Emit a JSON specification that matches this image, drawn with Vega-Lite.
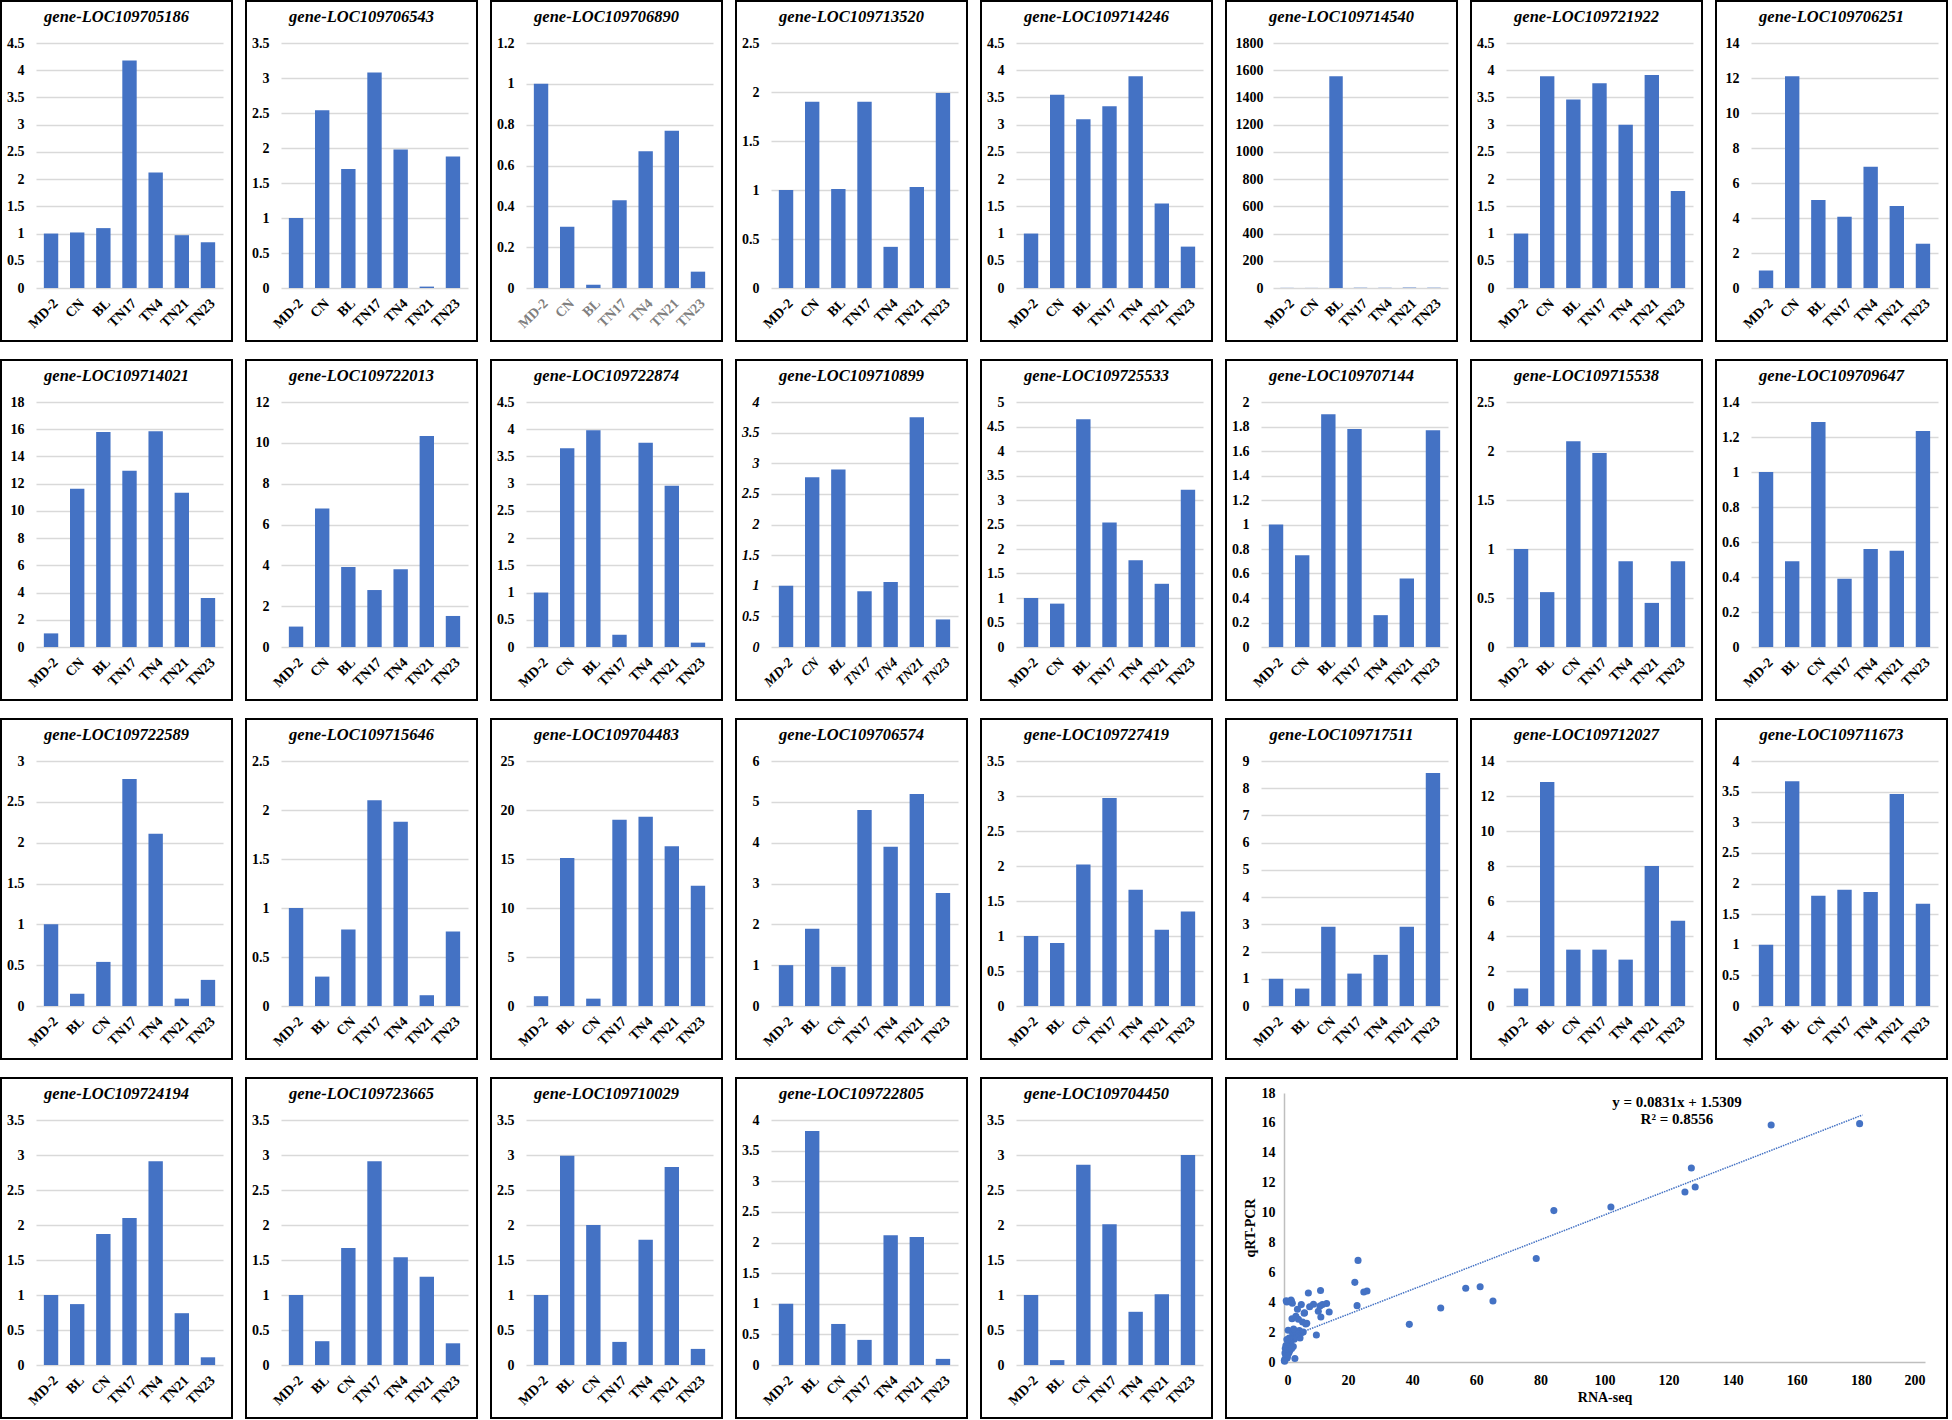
{
"$schema": "https://vega.github.io/schema/vega-lite/v6.json",
"padding": 0,
"background": "white",
"datasets": {
"bars": [
{"gene":"gene-LOC109705186","sample":"MD-2","value":1.0},{"gene":"gene-LOC109705186","sample":"CN","value":1.02},{"gene":"gene-LOC109705186","sample":"BL","value":1.1},{"gene":"gene-LOC109705186","sample":"TN17","value":4.18},{"gene":"gene-LOC109705186","sample":"TN4","value":2.12},{"gene":"gene-LOC109705186","sample":"TN21","value":0.97},{"gene":"gene-LOC109705186","sample":"TN23","value":0.84},
{"gene":"gene-LOC109706543","sample":"MD-2","value":1.0},{"gene":"gene-LOC109706543","sample":"CN","value":2.54},{"gene":"gene-LOC109706543","sample":"BL","value":1.7},{"gene":"gene-LOC109706543","sample":"TN17","value":3.08},{"gene":"gene-LOC109706543","sample":"TN4","value":1.98},{"gene":"gene-LOC109706543","sample":"TN21","value":0.02},{"gene":"gene-LOC109706543","sample":"TN23","value":1.88},
{"gene":"gene-LOC109706890","sample":"MD-2","value":1.0},{"gene":"gene-LOC109706890","sample":"CN","value":0.3},{"gene":"gene-LOC109706890","sample":"BL","value":0.016},{"gene":"gene-LOC109706890","sample":"TN17","value":0.43},{"gene":"gene-LOC109706890","sample":"TN4","value":0.67},{"gene":"gene-LOC109706890","sample":"TN21","value":0.77},{"gene":"gene-LOC109706890","sample":"TN23","value":0.08},
{"gene":"gene-LOC109713520","sample":"MD-2","value":1.0},{"gene":"gene-LOC109713520","sample":"CN","value":1.9},{"gene":"gene-LOC109713520","sample":"BL","value":1.01},{"gene":"gene-LOC109713520","sample":"TN17","value":1.9},{"gene":"gene-LOC109713520","sample":"TN4","value":0.42},{"gene":"gene-LOC109713520","sample":"TN21","value":1.03},{"gene":"gene-LOC109713520","sample":"TN23","value":1.99},
{"gene":"gene-LOC109714246","sample":"MD-2","value":1.0},{"gene":"gene-LOC109714246","sample":"CN","value":3.55},{"gene":"gene-LOC109714246","sample":"BL","value":3.1},{"gene":"gene-LOC109714246","sample":"TN17","value":3.34},{"gene":"gene-LOC109714246","sample":"TN4","value":3.89},{"gene":"gene-LOC109714246","sample":"TN21","value":1.55},{"gene":"gene-LOC109714246","sample":"TN23","value":0.76},
{"gene":"gene-LOC109714540","sample":"MD-2","value":1.0},{"gene":"gene-LOC109714540","sample":"CN","value":0.6},{"gene":"gene-LOC109714540","sample":"BL","value":1556},{"gene":"gene-LOC109714540","sample":"TN17","value":2},{"gene":"gene-LOC109714540","sample":"TN4","value":1.5},{"gene":"gene-LOC109714540","sample":"TN21","value":3},{"gene":"gene-LOC109714540","sample":"TN23","value":2},
{"gene":"gene-LOC109721922","sample":"MD-2","value":1.0},{"gene":"gene-LOC109721922","sample":"CN","value":3.89},{"gene":"gene-LOC109721922","sample":"BL","value":3.46},{"gene":"gene-LOC109721922","sample":"TN17","value":3.76},{"gene":"gene-LOC109721922","sample":"TN4","value":3.0},{"gene":"gene-LOC109721922","sample":"TN21","value":3.91},{"gene":"gene-LOC109721922","sample":"TN23","value":1.78},
{"gene":"gene-LOC109706251","sample":"MD-2","value":1.0},{"gene":"gene-LOC109706251","sample":"CN","value":12.1},{"gene":"gene-LOC109706251","sample":"BL","value":5.03},{"gene":"gene-LOC109706251","sample":"TN17","value":4.07},{"gene":"gene-LOC109706251","sample":"TN4","value":6.93},{"gene":"gene-LOC109706251","sample":"TN21","value":4.69},{"gene":"gene-LOC109706251","sample":"TN23","value":2.53},
{"gene":"gene-LOC109714021","sample":"MD-2","value":1.0},{"gene":"gene-LOC109714021","sample":"CN","value":11.63},{"gene":"gene-LOC109714021","sample":"BL","value":15.79},{"gene":"gene-LOC109714021","sample":"TN17","value":12.94},{"gene":"gene-LOC109714021","sample":"TN4","value":15.86},{"gene":"gene-LOC109714021","sample":"TN21","value":11.34},{"gene":"gene-LOC109714021","sample":"TN23","value":3.6},
{"gene":"gene-LOC109722013","sample":"MD-2","value":1.0},{"gene":"gene-LOC109722013","sample":"CN","value":6.78},{"gene":"gene-LOC109722013","sample":"BL","value":3.92},{"gene":"gene-LOC109722013","sample":"TN17","value":2.79},{"gene":"gene-LOC109722013","sample":"TN4","value":3.81},{"gene":"gene-LOC109722013","sample":"TN21","value":10.33},{"gene":"gene-LOC109722013","sample":"TN23","value":1.52},
{"gene":"gene-LOC109722874","sample":"MD-2","value":1.0},{"gene":"gene-LOC109722874","sample":"CN","value":3.65},{"gene":"gene-LOC109722874","sample":"BL","value":3.98},{"gene":"gene-LOC109722874","sample":"TN17","value":0.225},{"gene":"gene-LOC109722874","sample":"TN4","value":3.75},{"gene":"gene-LOC109722874","sample":"TN21","value":2.96},{"gene":"gene-LOC109722874","sample":"TN23","value":0.08},
{"gene":"gene-LOC109710899","sample":"MD-2","value":1.0},{"gene":"gene-LOC109710899","sample":"CN","value":2.77},{"gene":"gene-LOC109710899","sample":"BL","value":2.9},{"gene":"gene-LOC109710899","sample":"TN17","value":0.91},{"gene":"gene-LOC109710899","sample":"TN4","value":1.06},{"gene":"gene-LOC109710899","sample":"TN21","value":3.75},{"gene":"gene-LOC109710899","sample":"TN23","value":0.45},
{"gene":"gene-LOC109725533","sample":"MD-2","value":1.0},{"gene":"gene-LOC109725533","sample":"CN","value":0.885},{"gene":"gene-LOC109725533","sample":"BL","value":4.65},{"gene":"gene-LOC109725533","sample":"TN17","value":2.54},{"gene":"gene-LOC109725533","sample":"TN4","value":1.77},{"gene":"gene-LOC109725533","sample":"TN21","value":1.29},{"gene":"gene-LOC109725533","sample":"TN23","value":3.21},
{"gene":"gene-LOC109707144","sample":"MD-2","value":1.0},{"gene":"gene-LOC109707144","sample":"CN","value":0.75},{"gene":"gene-LOC109707144","sample":"BL","value":1.9},{"gene":"gene-LOC109707144","sample":"TN17","value":1.78},{"gene":"gene-LOC109707144","sample":"TN4","value":0.26},{"gene":"gene-LOC109707144","sample":"TN21","value":0.56},{"gene":"gene-LOC109707144","sample":"TN23","value":1.77},
{"gene":"gene-LOC109715538","sample":"MD-2","value":1.0},{"gene":"gene-LOC109715538","sample":"BL","value":0.56},{"gene":"gene-LOC109715538","sample":"CN","value":2.1},{"gene":"gene-LOC109715538","sample":"TN17","value":1.98},{"gene":"gene-LOC109715538","sample":"TN4","value":0.875},{"gene":"gene-LOC109715538","sample":"TN21","value":0.45},{"gene":"gene-LOC109715538","sample":"TN23","value":0.875},
{"gene":"gene-LOC109709647","sample":"MD-2","value":1.0},{"gene":"gene-LOC109709647","sample":"BL","value":0.49},{"gene":"gene-LOC109709647","sample":"CN","value":1.286},{"gene":"gene-LOC109709647","sample":"TN17","value":0.39},{"gene":"gene-LOC109709647","sample":"TN4","value":0.56},{"gene":"gene-LOC109709647","sample":"TN21","value":0.55},{"gene":"gene-LOC109709647","sample":"TN23","value":1.234},
{"gene":"gene-LOC109722589","sample":"MD-2","value":1.0},{"gene":"gene-LOC109722589","sample":"BL","value":0.15},{"gene":"gene-LOC109722589","sample":"CN","value":0.54},{"gene":"gene-LOC109722589","sample":"TN17","value":2.78},{"gene":"gene-LOC109722589","sample":"TN4","value":2.11},{"gene":"gene-LOC109722589","sample":"TN21","value":0.09},{"gene":"gene-LOC109722589","sample":"TN23","value":0.32},
{"gene":"gene-LOC109715646","sample":"MD-2","value":1.0},{"gene":"gene-LOC109715646","sample":"BL","value":0.3},{"gene":"gene-LOC109715646","sample":"CN","value":0.78},{"gene":"gene-LOC109715646","sample":"TN17","value":2.1},{"gene":"gene-LOC109715646","sample":"TN4","value":1.88},{"gene":"gene-LOC109715646","sample":"TN21","value":0.11},{"gene":"gene-LOC109715646","sample":"TN23","value":0.76},
{"gene":"gene-LOC109704483","sample":"MD-2","value":1.0},{"gene":"gene-LOC109704483","sample":"BL","value":15.1},{"gene":"gene-LOC109704483","sample":"CN","value":0.75},{"gene":"gene-LOC109704483","sample":"TN17","value":19.0},{"gene":"gene-LOC109704483","sample":"TN4","value":19.3},{"gene":"gene-LOC109704483","sample":"TN21","value":16.3},{"gene":"gene-LOC109704483","sample":"TN23","value":12.26},
{"gene":"gene-LOC109706574","sample":"MD-2","value":1.0},{"gene":"gene-LOC109706574","sample":"BL","value":1.89},{"gene":"gene-LOC109706574","sample":"CN","value":0.96},{"gene":"gene-LOC109706574","sample":"TN17","value":4.8},{"gene":"gene-LOC109706574","sample":"TN4","value":3.9},{"gene":"gene-LOC109706574","sample":"TN21","value":5.19},{"gene":"gene-LOC109706574","sample":"TN23","value":2.77},
{"gene":"gene-LOC109727419","sample":"MD-2","value":1.0},{"gene":"gene-LOC109727419","sample":"BL","value":0.9},{"gene":"gene-LOC109727419","sample":"CN","value":2.02},{"gene":"gene-LOC109727419","sample":"TN17","value":2.97},{"gene":"gene-LOC109727419","sample":"TN4","value":1.66},{"gene":"gene-LOC109727419","sample":"TN21","value":1.09},{"gene":"gene-LOC109727419","sample":"TN23","value":1.35},
{"gene":"gene-LOC109717511","sample":"MD-2","value":1.0},{"gene":"gene-LOC109717511","sample":"BL","value":0.64},{"gene":"gene-LOC109717511","sample":"CN","value":2.91},{"gene":"gene-LOC109717511","sample":"TN17","value":1.19},{"gene":"gene-LOC109717511","sample":"TN4","value":1.88},{"gene":"gene-LOC109717511","sample":"TN21","value":2.91},{"gene":"gene-LOC109717511","sample":"TN23","value":8.56},
{"gene":"gene-LOC109712027","sample":"MD-2","value":1.0},{"gene":"gene-LOC109712027","sample":"BL","value":12.8},{"gene":"gene-LOC109712027","sample":"CN","value":3.22},{"gene":"gene-LOC109712027","sample":"TN17","value":3.22},{"gene":"gene-LOC109712027","sample":"TN4","value":2.65},{"gene":"gene-LOC109712027","sample":"TN21","value":8.0},{"gene":"gene-LOC109712027","sample":"TN23","value":4.87},
{"gene":"gene-LOC109711673","sample":"MD-2","value":1.0},{"gene":"gene-LOC109711673","sample":"BL","value":3.67},{"gene":"gene-LOC109711673","sample":"CN","value":1.8},{"gene":"gene-LOC109711673","sample":"TN17","value":1.9},{"gene":"gene-LOC109711673","sample":"TN4","value":1.86},{"gene":"gene-LOC109711673","sample":"TN21","value":3.46},{"gene":"gene-LOC109711673","sample":"TN23","value":1.67},
{"gene":"gene-LOC109724194","sample":"MD-2","value":1.0},{"gene":"gene-LOC109724194","sample":"BL","value":0.87},{"gene":"gene-LOC109724194","sample":"CN","value":1.87},{"gene":"gene-LOC109724194","sample":"TN17","value":2.1},{"gene":"gene-LOC109724194","sample":"TN4","value":2.91},{"gene":"gene-LOC109724194","sample":"TN21","value":0.74},{"gene":"gene-LOC109724194","sample":"TN23","value":0.11},
{"gene":"gene-LOC109723665","sample":"MD-2","value":1.0},{"gene":"gene-LOC109723665","sample":"BL","value":0.34},{"gene":"gene-LOC109723665","sample":"CN","value":1.67},{"gene":"gene-LOC109723665","sample":"TN17","value":2.91},{"gene":"gene-LOC109723665","sample":"TN4","value":1.54},{"gene":"gene-LOC109723665","sample":"TN21","value":1.26},{"gene":"gene-LOC109723665","sample":"TN23","value":0.31},
{"gene":"gene-LOC109710029","sample":"MD-2","value":1.0},{"gene":"gene-LOC109710029","sample":"BL","value":2.99},{"gene":"gene-LOC109710029","sample":"CN","value":2.0},{"gene":"gene-LOC109710029","sample":"TN17","value":0.33},{"gene":"gene-LOC109710029","sample":"TN4","value":1.79},{"gene":"gene-LOC109710029","sample":"TN21","value":2.83},{"gene":"gene-LOC109710029","sample":"TN23","value":0.23},
{"gene":"gene-LOC109722805","sample":"MD-2","value":1.0},{"gene":"gene-LOC109722805","sample":"BL","value":3.82},{"gene":"gene-LOC109722805","sample":"CN","value":0.67},{"gene":"gene-LOC109722805","sample":"TN17","value":0.41},{"gene":"gene-LOC109722805","sample":"TN4","value":2.12},{"gene":"gene-LOC109722805","sample":"TN21","value":2.09},{"gene":"gene-LOC109722805","sample":"TN23","value":0.1},
{"gene":"gene-LOC109704450","sample":"MD-2","value":1.0},{"gene":"gene-LOC109704450","sample":"BL","value":0.07},{"gene":"gene-LOC109704450","sample":"CN","value":2.86},{"gene":"gene-LOC109704450","sample":"TN17","value":2.01},{"gene":"gene-LOC109704450","sample":"TN4","value":0.76},{"gene":"gene-LOC109704450","sample":"TN21","value":1.01},{"gene":"gene-LOC109704450","sample":"TN23","value":3.0}
],
"scatter": [
{"rna":179.6,"qpcr":15.95},{"rna":152,"qpcr":15.86},{"rna":127.1,"qpcr":12.98},{"rna":128.3,"qpcr":11.71},{"rna":125.1,"qpcr":11.38},{"rna":102,"qpcr":10.37},{"rna":84.2,"qpcr":10.13},{"rna":78.7,"qpcr":6.92},{"rna":61.2,"qpcr":5.04},{"rna":56.7,"qpcr":4.93},{"rna":65.2,"qpcr":4.08},{"rna":48.9,"qpcr":3.61},{"rna":39.1,"qpcr":2.52},{"rna":23.1,"qpcr":6.8},{"rna":22.1,"qpcr":5.33},{"rna":25.9,"qpcr":4.75},{"rna":24.9,"qpcr":4.68},{"rna":22.8,"qpcr":3.77},
{"rna":7.6,"qpcr":4.62},{"rna":11.4,"qpcr":4.78},{"rna":0.9,"qpcr":4.02},{"rna":2.2,"qpcr":4.15},{"rna":2.6,"qpcr":3.93},{"rna":5.4,"qpcr":3.84},{"rna":4.2,"qpcr":3.53},{"rna":9.2,"qpcr":3.86},{"rna":11.2,"qpcr":3.75},{"rna":12.0,"qpcr":3.84},{"rna":13.3,"qpcr":3.91},{"rna":14.1,"qpcr":3.35},{"rna":10.7,"qpcr":3.39},{"rna":11.5,"qpcr":3.01},{"rna":2.5,"qpcr":2.9},{"rna":3.7,"qpcr":3.06},{"rna":6.3,"qpcr":3.26},{"rna":7.1,"qpcr":2.59},{"rna":5.8,"qpcr":2.68},{"rna":4.5,"qpcr":2.86},{"rna":10.1,"qpcr":1.81},{"rna":1.3,"qpcr":2.12},{"rna":2.7,"qpcr":1.9},{"rna":4.2,"qpcr":1.74},{"rna":5.5,"qpcr":1.97},{"rna":3.2,"qpcr":1.52},{"rna":2.1,"qpcr":1.3},{"rna":1.9,"qpcr":1.34},{"rna":2.9,"qpcr":1.03},{"rna":1.0,"qpcr":0.27},{"rna":3.4,"qpcr":0.23},{"rna":0.3,"qpcr":0.2},{"rna":0.5,"qpcr":0.5},{"rna":0.8,"qpcr":0.8},{"rna":1.2,"qpcr":1.0},{"rna":0.6,"qpcr":1.1},{"rna":1.5,"qpcr":0.6},{"rna":0.2,"qpcr":0.05},{"rna":0.4,"qpcr":0.9},{"rna":1.8,"qpcr":0.75},{"rna":6.4,"qpcr":3.3},{"rna":4.8,"qpcr":2.1},{"rna":3.5,"qpcr":1.75},{"rna":5.0,"qpcr":1.6},{"rna":6.8,"qpcr":2.55},{"rna":8.0,"qpcr":3.7},{"rna":0.7,"qpcr":4.1},{"rna":2.3,"qpcr":4.06},{"rna":6.0,"qpcr":2.0},{"rna":4.0,"qpcr":1.9},{"rna":3.0,"qpcr":2.2},{"rna":1.6,"qpcr":1.6},{"rna":0.9,"qpcr":1.5},{"rna":0.3,"qpcr":0.6},{"rna":1.1,"qpcr":0.4},{"rna":2.4,"qpcr":0.9},{"rna":0.1,"qpcr":0.1}
]
},
"data": {"name": "bars"},
"config": {
"font": "Liberation Serif",
"view": {"stroke": "#000000", "strokeWidth": 2},
"bar": {"color": "#4472C4"},
"title": {"fontSize": 16.5, "fontWeight": "bold", "fontStyle": "italic", "offset": -24, "baseline": "alphabetic", "anchor": "middle", "color": "#000000"},
"axis": {"labelFontWeight": "bold", "labelColor": "#000000", "ticks": false, "tickSize": 0, "domain": false, "labelOverlap": false, "labelBound": false},
"axisX": {"offset": -53, "labelAngle": -45, "labelFontSize": 14, "labelPadding": 8, "grid": false},
"axisY": {"offset": 0, "labelFontSize": 14, "labelPadding": -23, "minExtent": 0, "maxExtent": 0, "gridColor": "#d9d9d9", "gridWidth": 1.5}
},
"vconcat": [
{"hconcat": [
{"width":231,"height":340,"title":"gene-LOC109705186","transform":[{"filter":{"field":"gene","equal":"gene-LOC109705186"}}],"mark":"bar","encoding":{"x":{"field":"sample","type":"nominal","sort":["MD-2","CN","BL","TN17","TN4","TN21","TN23"],"scale":{"range":[35,222],"paddingInner":0.45,"paddingOuter":0.3},"axis":{"title":null}},"y":{"field":"value","type":"quantitative","scale":{"domain":[0,4.5],"range":[287,42],"nice":false},"axis":{"title":null,"format":"~f","values":[0,0.5,1,1.5,2,2.5,3,3.5,4,4.5]}}}},
{"width":231,"height":340,"title":"gene-LOC109706543","transform":[{"filter":{"field":"gene","equal":"gene-LOC109706543"}}],"mark":"bar","encoding":{"x":{"field":"sample","type":"nominal","sort":["MD-2","CN","BL","TN17","TN4","TN21","TN23"],"scale":{"range":[35,222],"paddingInner":0.45,"paddingOuter":0.3},"axis":{"title":null}},"y":{"field":"value","type":"quantitative","scale":{"domain":[0,3.5],"range":[287,42],"nice":false},"axis":{"title":null,"format":"~f","values":[0,0.5,1,1.5,2,2.5,3,3.5]}}}},
{"width":231,"height":340,"title":"gene-LOC109706890","transform":[{"filter":{"field":"gene","equal":"gene-LOC109706890"}}],"mark":"bar","encoding":{"x":{"field":"sample","type":"nominal","sort":["MD-2","CN","BL","TN17","TN4","TN21","TN23"],"scale":{"range":[35,222],"paddingInner":0.45,"paddingOuter":0.3},"axis":{"title":null,"labelColor":"#808080"}},"y":{"field":"value","type":"quantitative","scale":{"domain":[0,1.2],"range":[287,42],"nice":false},"axis":{"title":null,"format":"~f","values":[0,0.2,0.4,0.6,0.8,1,1.2]}}}},
{"width":231,"height":340,"title":"gene-LOC109713520","transform":[{"filter":{"field":"gene","equal":"gene-LOC109713520"}}],"mark":"bar","encoding":{"x":{"field":"sample","type":"nominal","sort":["MD-2","CN","BL","TN17","TN4","TN21","TN23"],"scale":{"range":[35,222],"paddingInner":0.45,"paddingOuter":0.3},"axis":{"title":null}},"y":{"field":"value","type":"quantitative","scale":{"domain":[0,2.5],"range":[287,42],"nice":false},"axis":{"title":null,"format":"~f","values":[0,0.5,1,1.5,2,2.5]}}}},
{"width":231,"height":340,"title":"gene-LOC109714246","transform":[{"filter":{"field":"gene","equal":"gene-LOC109714246"}}],"mark":"bar","encoding":{"x":{"field":"sample","type":"nominal","sort":["MD-2","CN","BL","TN17","TN4","TN21","TN23"],"scale":{"range":[35,222],"paddingInner":0.45,"paddingOuter":0.3},"axis":{"title":null}},"y":{"field":"value","type":"quantitative","scale":{"domain":[0,4.5],"range":[287,42],"nice":false},"axis":{"title":null,"format":"~f","values":[0,0.5,1,1.5,2,2.5,3,3.5,4,4.5]}}}},
{"width":231,"height":340,"title":"gene-LOC109714540","transform":[{"filter":{"field":"gene","equal":"gene-LOC109714540"}}],"mark":"bar","encoding":{"x":{"field":"sample","type":"nominal","sort":["MD-2","CN","BL","TN17","TN4","TN21","TN23"],"scale":{"range":[47,222],"paddingInner":0.45,"paddingOuter":0.3},"axis":{"title":null}},"y":{"field":"value","type":"quantitative","scale":{"domain":[0,1800],"range":[287,42],"nice":false},"axis":{"title":null,"format":"~f","labelPadding":-37,"values":[0,200,400,600,800,1000,1200,1400,1600,1800]}}}},
{"width":231,"height":340,"title":"gene-LOC109721922","transform":[{"filter":{"field":"gene","equal":"gene-LOC109721922"}}],"mark":"bar","encoding":{"x":{"field":"sample","type":"nominal","sort":["MD-2","CN","BL","TN17","TN4","TN21","TN23"],"scale":{"range":[35,222],"paddingInner":0.45,"paddingOuter":0.3},"axis":{"title":null}},"y":{"field":"value","type":"quantitative","scale":{"domain":[0,4.5],"range":[287,42],"nice":false},"axis":{"title":null,"format":"~f","values":[0,0.5,1,1.5,2,2.5,3,3.5,4,4.5]}}}},
{"width":231,"height":340,"title":"gene-LOC109706251","transform":[{"filter":{"field":"gene","equal":"gene-LOC109706251"}}],"mark":"bar","encoding":{"x":{"field":"sample","type":"nominal","sort":["MD-2","CN","BL","TN17","TN4","TN21","TN23"],"scale":{"range":[35,222],"paddingInner":0.45,"paddingOuter":0.3},"axis":{"title":null}},"y":{"field":"value","type":"quantitative","scale":{"domain":[0,14],"range":[287,42],"nice":false},"axis":{"title":null,"format":"~f","values":[0,2,4,6,8,10,12,14]}}}}
], "spacing": 12},
{"hconcat": [
{"width":231,"height":340,"title":"gene-LOC109714021","transform":[{"filter":{"field":"gene","equal":"gene-LOC109714021"}}],"mark":"bar","encoding":{"x":{"field":"sample","type":"nominal","sort":["MD-2","CN","BL","TN17","TN4","TN21","TN23"],"scale":{"range":[35,222],"paddingInner":0.45,"paddingOuter":0.3},"axis":{"title":null}},"y":{"field":"value","type":"quantitative","scale":{"domain":[0,18],"range":[287,42],"nice":false},"axis":{"title":null,"format":"~f","values":[0,2,4,6,8,10,12,14,16,18]}}}},
{"width":231,"height":340,"title":"gene-LOC109722013","transform":[{"filter":{"field":"gene","equal":"gene-LOC109722013"}}],"mark":"bar","encoding":{"x":{"field":"sample","type":"nominal","sort":["MD-2","CN","BL","TN17","TN4","TN21","TN23"],"scale":{"range":[35,222],"paddingInner":0.45,"paddingOuter":0.3},"axis":{"title":null}},"y":{"field":"value","type":"quantitative","scale":{"domain":[0,12],"range":[287,42],"nice":false},"axis":{"title":null,"format":"~f","values":[0,2,4,6,8,10,12]}}}},
{"width":231,"height":340,"title":"gene-LOC109722874","transform":[{"filter":{"field":"gene","equal":"gene-LOC109722874"}}],"mark":"bar","encoding":{"x":{"field":"sample","type":"nominal","sort":["MD-2","CN","BL","TN17","TN4","TN21","TN23"],"scale":{"range":[35,222],"paddingInner":0.45,"paddingOuter":0.3},"axis":{"title":null}},"y":{"field":"value","type":"quantitative","scale":{"domain":[0,4.5],"range":[287,42],"nice":false},"axis":{"title":null,"format":"~f","values":[0,0.5,1,1.5,2,2.5,3,3.5,4,4.5]}}}},
{"width":231,"height":340,"title":"gene-LOC109710899","transform":[{"filter":{"field":"gene","equal":"gene-LOC109710899"}}],"mark":"bar","encoding":{"x":{"field":"sample","type":"nominal","sort":["MD-2","CN","BL","TN17","TN4","TN21","TN23"],"scale":{"range":[35,222],"paddingInner":0.45,"paddingOuter":0.3},"axis":{"title":null,"labelFontStyle":"italic"}},"y":{"field":"value","type":"quantitative","scale":{"domain":[0,4],"range":[287,42],"nice":false},"axis":{"title":null,"format":"~f","labelFontStyle":"italic","values":[0,0.5,1,1.5,2,2.5,3,3.5,4]}}}},
{"width":231,"height":340,"title":"gene-LOC109725533","transform":[{"filter":{"field":"gene","equal":"gene-LOC109725533"}}],"mark":"bar","encoding":{"x":{"field":"sample","type":"nominal","sort":["MD-2","CN","BL","TN17","TN4","TN21","TN23"],"scale":{"range":[35,222],"paddingInner":0.45,"paddingOuter":0.3},"axis":{"title":null}},"y":{"field":"value","type":"quantitative","scale":{"domain":[0,5],"range":[287,42],"nice":false},"axis":{"title":null,"format":"~f","values":[0,0.5,1,1.5,2,2.5,3,3.5,4,4.5,5]}}}},
{"width":231,"height":340,"title":"gene-LOC109707144","transform":[{"filter":{"field":"gene","equal":"gene-LOC109707144"}}],"mark":"bar","encoding":{"x":{"field":"sample","type":"nominal","sort":["MD-2","CN","BL","TN17","TN4","TN21","TN23"],"scale":{"range":[35,222],"paddingInner":0.45,"paddingOuter":0.3},"axis":{"title":null}},"y":{"field":"value","type":"quantitative","scale":{"domain":[0,2],"range":[287,42],"nice":false},"axis":{"title":null,"format":"~f","values":[0,0.2,0.4,0.6,0.8,1,1.2,1.4,1.6,1.8,2]}}}},
{"width":231,"height":340,"title":"gene-LOC109715538","transform":[{"filter":{"field":"gene","equal":"gene-LOC109715538"}}],"mark":"bar","encoding":{"x":{"field":"sample","type":"nominal","sort":["MD-2","BL","CN","TN17","TN4","TN21","TN23"],"scale":{"range":[35,222],"paddingInner":0.45,"paddingOuter":0.3},"axis":{"title":null}},"y":{"field":"value","type":"quantitative","scale":{"domain":[0,2.5],"range":[287,42],"nice":false},"axis":{"title":null,"format":"~f","values":[0,0.5,1,1.5,2,2.5]}}}},
{"width":231,"height":340,"title":"gene-LOC109709647","transform":[{"filter":{"field":"gene","equal":"gene-LOC109709647"}}],"mark":"bar","encoding":{"x":{"field":"sample","type":"nominal","sort":["MD-2","BL","CN","TN17","TN4","TN21","TN23"],"scale":{"range":[35,222],"paddingInner":0.45,"paddingOuter":0.3},"axis":{"title":null}},"y":{"field":"value","type":"quantitative","scale":{"domain":[0,1.4],"range":[287,42],"nice":false},"axis":{"title":null,"format":"~f","values":[0,0.2,0.4,0.6,0.8,1,1.2,1.4]}}}}
], "spacing": 12},
{"hconcat": [
{"width":231,"height":340,"title":"gene-LOC109722589","transform":[{"filter":{"field":"gene","equal":"gene-LOC109722589"}}],"mark":"bar","encoding":{"x":{"field":"sample","type":"nominal","sort":["MD-2","BL","CN","TN17","TN4","TN21","TN23"],"scale":{"range":[35,222],"paddingInner":0.45,"paddingOuter":0.3},"axis":{"title":null}},"y":{"field":"value","type":"quantitative","scale":{"domain":[0,3],"range":[287,42],"nice":false},"axis":{"title":null,"format":"~f","values":[0,0.5,1,1.5,2,2.5,3]}}}},
{"width":231,"height":340,"title":"gene-LOC109715646","transform":[{"filter":{"field":"gene","equal":"gene-LOC109715646"}}],"mark":"bar","encoding":{"x":{"field":"sample","type":"nominal","sort":["MD-2","BL","CN","TN17","TN4","TN21","TN23"],"scale":{"range":[35,222],"paddingInner":0.45,"paddingOuter":0.3},"axis":{"title":null}},"y":{"field":"value","type":"quantitative","scale":{"domain":[0,2.5],"range":[287,42],"nice":false},"axis":{"title":null,"format":"~f","values":[0,0.5,1,1.5,2,2.5]}}}},
{"width":231,"height":340,"title":"gene-LOC109704483","transform":[{"filter":{"field":"gene","equal":"gene-LOC109704483"}}],"mark":"bar","encoding":{"x":{"field":"sample","type":"nominal","sort":["MD-2","BL","CN","TN17","TN4","TN21","TN23"],"scale":{"range":[35,222],"paddingInner":0.45,"paddingOuter":0.3},"axis":{"title":null}},"y":{"field":"value","type":"quantitative","scale":{"domain":[0,25],"range":[287,42],"nice":false},"axis":{"title":null,"format":"~f","values":[0,5,10,15,20,25]}}}},
{"width":231,"height":340,"title":"gene-LOC109706574","transform":[{"filter":{"field":"gene","equal":"gene-LOC109706574"}}],"mark":"bar","encoding":{"x":{"field":"sample","type":"nominal","sort":["MD-2","BL","CN","TN17","TN4","TN21","TN23"],"scale":{"range":[35,222],"paddingInner":0.45,"paddingOuter":0.3},"axis":{"title":null}},"y":{"field":"value","type":"quantitative","scale":{"domain":[0,6],"range":[287,42],"nice":false},"axis":{"title":null,"format":"~f","values":[0,1,2,3,4,5,6]}}}},
{"width":231,"height":340,"title":"gene-LOC109727419","transform":[{"filter":{"field":"gene","equal":"gene-LOC109727419"}}],"mark":"bar","encoding":{"x":{"field":"sample","type":"nominal","sort":["MD-2","BL","CN","TN17","TN4","TN21","TN23"],"scale":{"range":[35,222],"paddingInner":0.45,"paddingOuter":0.3},"axis":{"title":null}},"y":{"field":"value","type":"quantitative","scale":{"domain":[0,3.5],"range":[287,42],"nice":false},"axis":{"title":null,"format":"~f","values":[0,0.5,1,1.5,2,2.5,3,3.5]}}}},
{"width":231,"height":340,"title":"gene-LOC109717511","transform":[{"filter":{"field":"gene","equal":"gene-LOC109717511"}}],"mark":"bar","encoding":{"x":{"field":"sample","type":"nominal","sort":["MD-2","BL","CN","TN17","TN4","TN21","TN23"],"scale":{"range":[35,222],"paddingInner":0.45,"paddingOuter":0.3},"axis":{"title":null}},"y":{"field":"value","type":"quantitative","scale":{"domain":[0,9],"range":[287,42],"nice":false},"axis":{"title":null,"format":"~f","values":[0,1,2,3,4,5,6,7,8,9]}}}},
{"width":231,"height":340,"title":"gene-LOC109712027","transform":[{"filter":{"field":"gene","equal":"gene-LOC109712027"}}],"mark":"bar","encoding":{"x":{"field":"sample","type":"nominal","sort":["MD-2","BL","CN","TN17","TN4","TN21","TN23"],"scale":{"range":[35,222],"paddingInner":0.45,"paddingOuter":0.3},"axis":{"title":null}},"y":{"field":"value","type":"quantitative","scale":{"domain":[0,14],"range":[287,42],"nice":false},"axis":{"title":null,"format":"~f","values":[0,2,4,6,8,10,12,14]}}}},
{"width":231,"height":340,"title":"gene-LOC109711673","transform":[{"filter":{"field":"gene","equal":"gene-LOC109711673"}}],"mark":"bar","encoding":{"x":{"field":"sample","type":"nominal","sort":["MD-2","BL","CN","TN17","TN4","TN21","TN23"],"scale":{"range":[35,222],"paddingInner":0.45,"paddingOuter":0.3},"axis":{"title":null}},"y":{"field":"value","type":"quantitative","scale":{"domain":[0,4],"range":[287,42],"nice":false},"axis":{"title":null,"format":"~f","values":[0,0.5,1,1.5,2,2.5,3,3.5,4]}}}}
], "spacing": 12},
{"hconcat": [
{"width":231,"height":340,"title":"gene-LOC109724194","transform":[{"filter":{"field":"gene","equal":"gene-LOC109724194"}}],"mark":"bar","encoding":{"x":{"field":"sample","type":"nominal","sort":["MD-2","BL","CN","TN17","TN4","TN21","TN23"],"scale":{"range":[35,222],"paddingInner":0.45,"paddingOuter":0.3},"axis":{"title":null}},"y":{"field":"value","type":"quantitative","scale":{"domain":[0,3.5],"range":[287,42],"nice":false},"axis":{"title":null,"format":"~f","values":[0,0.5,1,1.5,2,2.5,3,3.5]}}}},
{"width":231,"height":340,"title":"gene-LOC109723665","transform":[{"filter":{"field":"gene","equal":"gene-LOC109723665"}}],"mark":"bar","encoding":{"x":{"field":"sample","type":"nominal","sort":["MD-2","BL","CN","TN17","TN4","TN21","TN23"],"scale":{"range":[35,222],"paddingInner":0.45,"paddingOuter":0.3},"axis":{"title":null}},"y":{"field":"value","type":"quantitative","scale":{"domain":[0,3.5],"range":[287,42],"nice":false},"axis":{"title":null,"format":"~f","values":[0,0.5,1,1.5,2,2.5,3,3.5]}}}},
{"width":231,"height":340,"title":"gene-LOC109710029","transform":[{"filter":{"field":"gene","equal":"gene-LOC109710029"}}],"mark":"bar","encoding":{"x":{"field":"sample","type":"nominal","sort":["MD-2","BL","CN","TN17","TN4","TN21","TN23"],"scale":{"range":[35,222],"paddingInner":0.45,"paddingOuter":0.3},"axis":{"title":null}},"y":{"field":"value","type":"quantitative","scale":{"domain":[0,3.5],"range":[287,42],"nice":false},"axis":{"title":null,"format":"~f","values":[0,0.5,1,1.5,2,2.5,3,3.5]}}}},
{"width":231,"height":340,"title":"gene-LOC109722805","transform":[{"filter":{"field":"gene","equal":"gene-LOC109722805"}}],"mark":"bar","encoding":{"x":{"field":"sample","type":"nominal","sort":["MD-2","BL","CN","TN17","TN4","TN21","TN23"],"scale":{"range":[35,222],"paddingInner":0.45,"paddingOuter":0.3},"axis":{"title":null}},"y":{"field":"value","type":"quantitative","scale":{"domain":[0,4],"range":[287,42],"nice":false},"axis":{"title":null,"format":"~f","values":[0,0.5,1,1.5,2,2.5,3,3.5,4]}}}},
{"width":231,"height":340,"title":"gene-LOC109704450","transform":[{"filter":{"field":"gene","equal":"gene-LOC109704450"}}],"mark":"bar","encoding":{"x":{"field":"sample","type":"nominal","sort":["MD-2","BL","CN","TN17","TN4","TN21","TN23"],"scale":{"range":[35,222],"paddingInner":0.45,"paddingOuter":0.3},"axis":{"title":null}},"y":{"field":"value","type":"quantitative","scale":{"domain":[0,3.5],"range":[287,42],"nice":false},"axis":{"title":null,"format":"~f","values":[0,0.5,1,1.5,2,2.5,3,3.5]}}}},
{"width":721,"height":340,
 "layer": [
  {"data": {"name": "scatter"}, "mark": {"type": "circle", "size": 50, "color": "#4472C4", "opacity": 1},
   "encoding": {
    "x": {"field": "rna", "type": "quantitative", "scale": {"domain": [0, 200], "range": [58, 699], "nice": false, "zero": false},
          "axis": {"title": "RNA-seq", "offset": -56, "labelAngle": 0, "domain": true, "domainColor": "#bfbfbf", "domainWidth": 1.5, "ticks": false, "labelPadding": 11, "labelFontSize": 14, "labelOverlap": false, "values": [0,20,40,60,80,100,120,140,160,180,200], "format": "~f", "grid": false, "titleFontSize": 14, "titleFontWeight": "bold", "titleColor": "#000000", "titlePadding": 3}},
    "y": {"field": "qpcr", "type": "quantitative", "scale": {"domain": [0, 18], "range": [284, 15], "nice": false, "zero": false},
          "axis": {"title": "qRT-PCR", "offset": -58, "domain": true, "domainColor": "#bfbfbf", "domainWidth": 1.5, "ticks": false, "labelPadding": 9, "labelFontSize": 14, "labelOverlap": false, "labelSeparation": 0, "minExtent": 0, "maxExtent": 200, "tickCount": 10, "values": [0,2,4,6,8,10,12,14,16,18], "format": "~f", "grid": false, "titleFontSize": 14, "titleFontWeight": "bold", "titleColor": "#000000", "titlePadding": 4}}
   }},
  {"data": {"values": [{}]}, "mark": {"type": "rule", "color": "#4472C4", "strokeWidth": 1.5, "strokeDash": [1.5, 1]},
   "encoding": {
    "x": {"datum": 0, "type": "quantitative", "axis": {"title": "RNA-seq", "offset": -56, "labelAngle": 0, "domain": true, "domainColor": "#bfbfbf", "domainWidth": 1.5, "ticks": false, "labelPadding": 11, "labelFontSize": 14, "labelOverlap": false, "values": [0,20,40,60,80,100,120,140,160,180,200], "format": "~f", "grid": false, "titleFontSize": 14, "titleFontWeight": "bold", "titleColor": "#000000", "titlePadding": 3}},
    "y": {"datum": 1.5309, "type": "quantitative", "axis": {"title": "qRT-PCR", "offset": -58, "domain": true, "domainColor": "#bfbfbf", "domainWidth": 1.5, "ticks": false, "labelPadding": 9, "labelFontSize": 14, "labelOverlap": false, "labelSeparation": 0, "minExtent": 0, "maxExtent": 200, "tickCount": 10, "values": [0,2,4,6,8,10,12,14,16,18], "format": "~f", "grid": false, "titleFontSize": 14, "titleFontWeight": "bold", "titleColor": "#000000", "titlePadding": 4}},
    "x2": {"datum": 180.5}, "y2": {"datum": 16.53}}},
  {"data": {"values": [{}]}, "mark": {"type": "text", "fontWeight": "bold", "fontSize": 15, "color": "#000000"},
   "encoding": {
    "x": {"datum": 122.6, "type": "quantitative", "axis": {"title": "RNA-seq", "offset": -56, "labelAngle": 0, "domain": true, "domainColor": "#bfbfbf", "domainWidth": 1.5, "ticks": false, "labelPadding": 11, "labelFontSize": 14, "labelOverlap": false, "values": [0,20,40,60,80,100,120,140,160,180,200], "format": "~f", "grid": false, "titleFontSize": 14, "titleFontWeight": "bold", "titleColor": "#000000", "titlePadding": 3}},
    "y": {"datum": 17.4, "type": "quantitative", "axis": {"title": "qRT-PCR", "offset": -58, "domain": true, "domainColor": "#bfbfbf", "domainWidth": 1.5, "ticks": false, "labelPadding": 9, "labelFontSize": 14, "labelOverlap": false, "labelSeparation": 0, "minExtent": 0, "maxExtent": 200, "tickCount": 10, "values": [0,2,4,6,8,10,12,14,16,18], "format": "~f", "grid": false, "titleFontSize": 14, "titleFontWeight": "bold", "titleColor": "#000000", "titlePadding": 4}},
    "text": {"value": "y = 0.0831x + 1.5309"}}},
  {"data": {"values": [{}]}, "mark": {"type": "text", "fontWeight": "bold", "fontSize": 15, "color": "#000000"},
   "encoding": {
    "x": {"datum": 122.6, "type": "quantitative", "axis": {"title": "RNA-seq", "offset": -56, "labelAngle": 0, "domain": true, "domainColor": "#bfbfbf", "domainWidth": 1.5, "ticks": false, "labelPadding": 11, "labelFontSize": 14, "labelOverlap": false, "values": [0,20,40,60,80,100,120,140,160,180,200], "format": "~f", "grid": false, "titleFontSize": 14, "titleFontWeight": "bold", "titleColor": "#000000", "titlePadding": 3}},
    "y": {"datum": 16.25, "type": "quantitative", "axis": {"title": "qRT-PCR", "offset": -58, "domain": true, "domainColor": "#bfbfbf", "domainWidth": 1.5, "ticks": false, "labelPadding": 9, "labelFontSize": 14, "labelOverlap": false, "labelSeparation": 0, "minExtent": 0, "maxExtent": 200, "tickCount": 10, "values": [0,2,4,6,8,10,12,14,16,18], "format": "~f", "grid": false, "titleFontSize": 14, "titleFontWeight": "bold", "titleColor": "#000000", "titlePadding": 4}},
    "text": {"value": "R² = 0.8556"}}}
 ]}
], "spacing": 12}
],
"spacing": 17
}
